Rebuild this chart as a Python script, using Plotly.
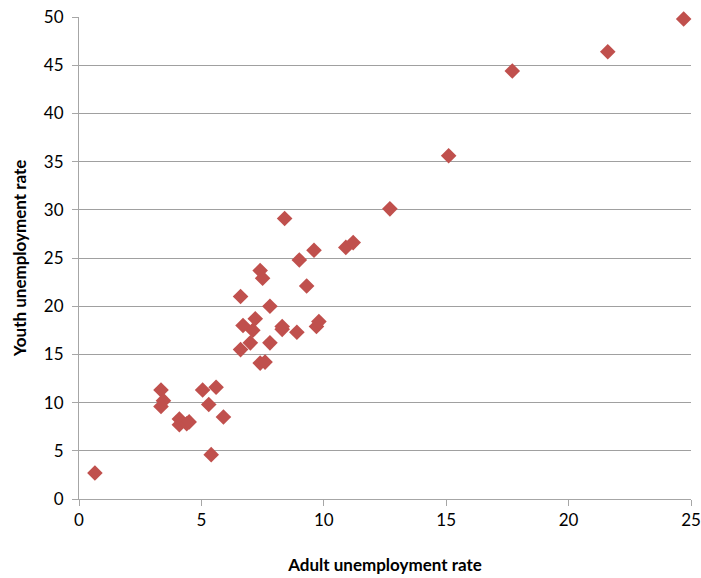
import plotly.graph_objects as go

adult = [0.65, 3.35, 3.45, 3.35, 4.1, 4.1, 4.4, 4.5, 5.05, 5.6, 5.3, 5.9, 5.4,
         6.6, 6.7, 6.6, 7.0, 7.1, 7.2, 7.4, 7.5, 7.4, 7.6, 7.8, 7.8, 8.4, 8.3,
         8.3, 8.9, 9.0, 9.3, 9.6, 9.7, 9.8, 10.9, 11.2, 12.7, 15.1, 17.7, 21.6, 24.7]
youth = [2.7, 11.3, 10.2, 9.6, 8.3, 7.7, 7.8, 8.0, 11.3, 11.6, 9.8, 8.5, 4.6,
         21.0, 18.0, 15.5, 16.2, 17.5, 18.7, 23.7, 22.9, 14.1, 14.2, 20.0, 16.2, 29.1, 17.6,
         17.9, 17.3, 24.8, 22.1, 25.8, 17.9, 18.4, 26.1, 26.6, 30.1, 35.6, 44.4, 46.4, 49.8]

x_ticks = [0, 5, 10, 15, 20, 25]
y_ticks = [0, 5, 10, 15, 20, 25, 30, 35, 40, 45, 50]

fig = go.Figure(go.Scatter(
    x=adult, y=youth, mode="markers", cliponaxis=False,
    marker=dict(symbol="diamond", size=12, color="#C0504D",
                line=dict(width=0)),
))

font_family = "Lato, sans-serif"
fig.update_layout(
    width=701, height=578,
    margin=dict(l=79, r=10, t=17, b=79, autoexpand=False),
    plot_bgcolor="white", paper_bgcolor="white",
    showlegend=False,
    font=dict(family=font_family, size=17, color="#000000"),
)
fig.update_xaxes(
    range=[0, 25], tickvals=x_ticks, showgrid=False, zeroline=False,
    showline=True, linecolor="#A6A6A6", linewidth=1,
    ticks="outside", ticklen=6, tickcolor="#A6A6A6",
    tickfont=dict(size=17),
    title=dict(text="<b>Adult unemployment rate</b>", font=dict(size=17), standoff=29),
)
fig.update_yaxes(
    range=[0, 50], tickvals=y_ticks, showgrid=True, gridcolor="#A0A0A0", gridwidth=1,
    zeroline=False, showline=True, linecolor="#A6A6A6", linewidth=1,
    ticks="outside", ticklen=6, tickcolor="#A6A6A6", ticklabelstandoff=5,
    tickfont=dict(size=17),
    title=dict(text="<b>Youth unemployment rate</b>", font=dict(size=17), standoff=12),
)

fig.write_html("out.html")
